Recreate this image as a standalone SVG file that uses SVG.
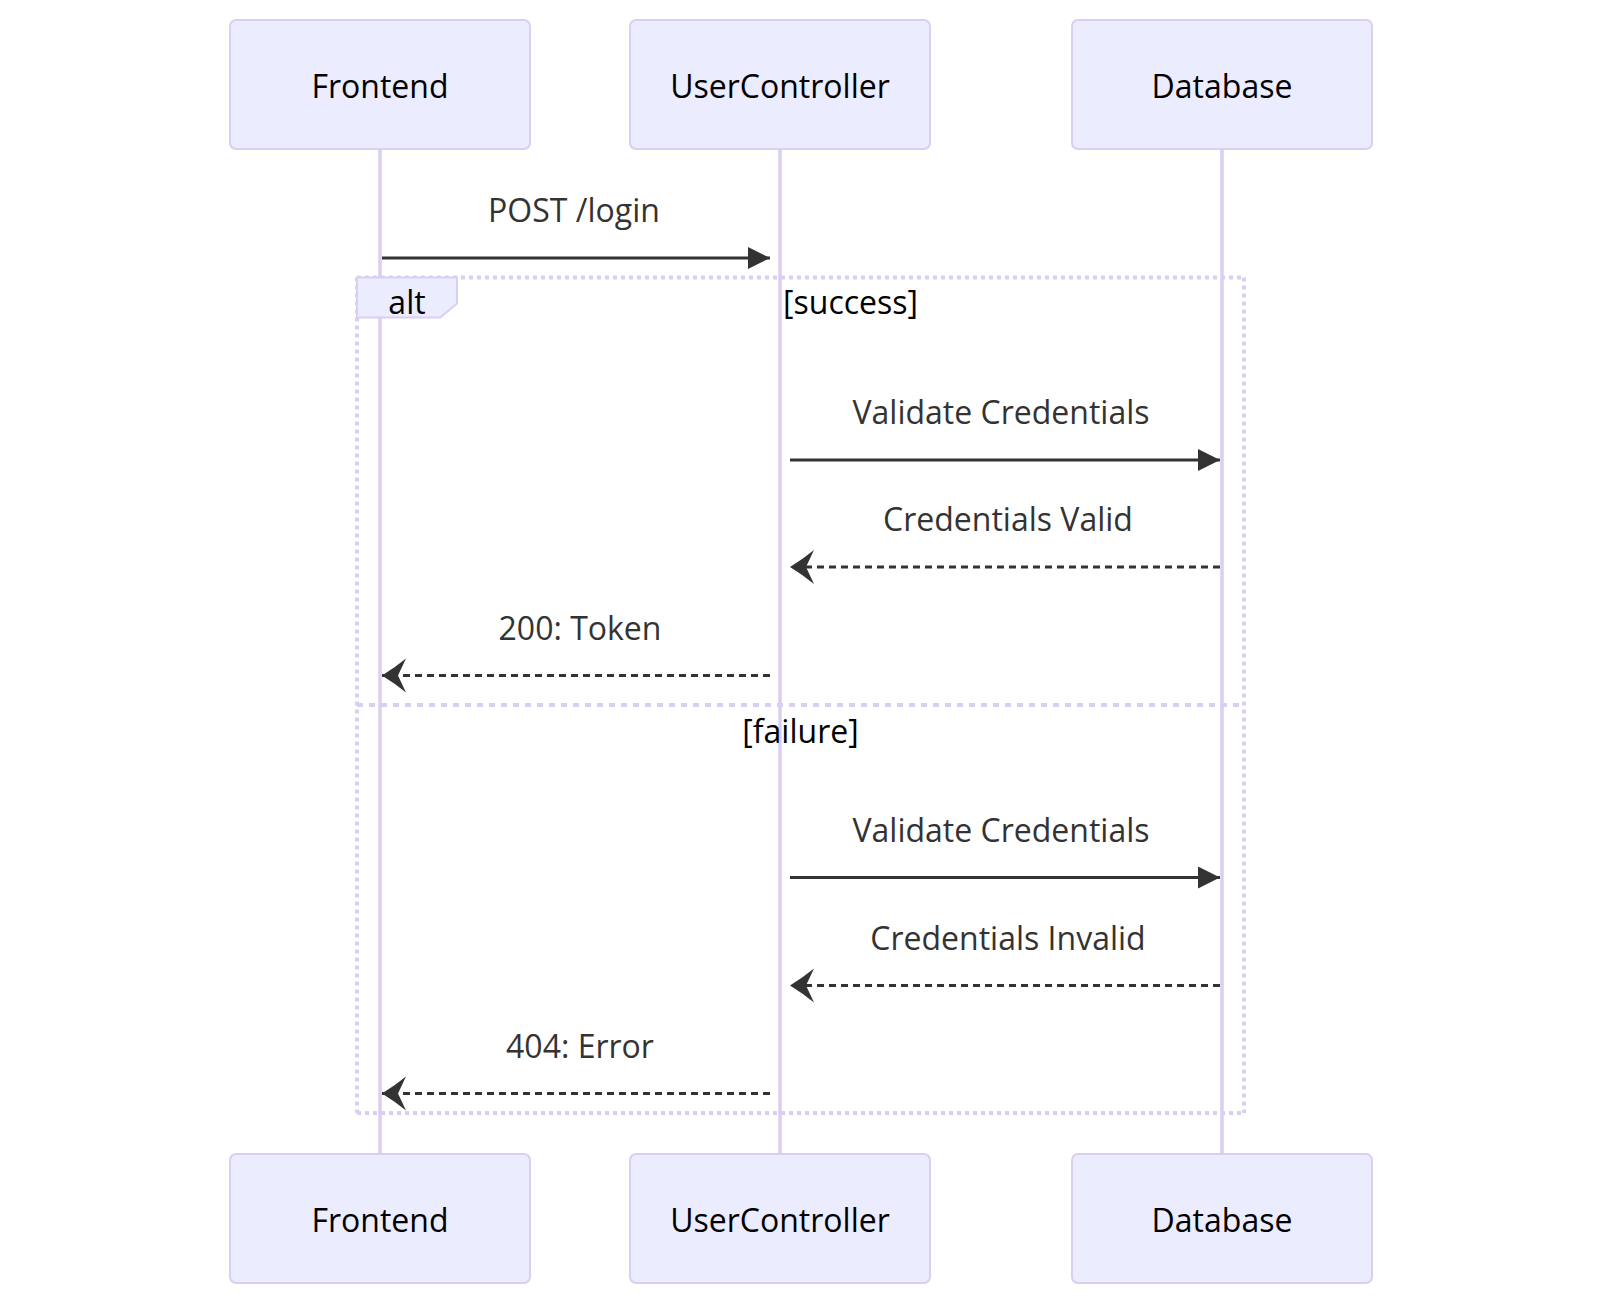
<svg xmlns="http://www.w3.org/2000/svg" width="1600" height="1306" viewBox="0 0 1600 1306">
<style>
.actor{fill:#ECECFF;stroke:#DACEF3;stroke-width:2}
.atext{font-family:"Open Sans","Noto Sans",sans-serif;font-size:32px;fill:#000;text-anchor:middle}
.lifeline{stroke:#DACEF3;stroke-width:3.5}
.msg{stroke:#333;stroke-width:3;fill:none}
.dot{stroke:#333;stroke-width:3;fill:none;stroke-dasharray:7 5}
.mtext{font-family:"Open Sans","Noto Sans",sans-serif;font-size:32px;fill:#333;text-anchor:middle}
.loop{stroke:#DACEF3;stroke-width:4;stroke-dasharray:4 4;fill:none}
.divider{stroke:#DACEF3;stroke-width:4;stroke-dasharray:6 6;fill:none}
.ltext{font-family:"Open Sans","Noto Sans",sans-serif;font-size:32px;fill:#000;text-anchor:middle}
</style>
<defs>
<marker id="solidHead" markerUnits="userSpaceOnUse" markerWidth="24" markerHeight="22" refX="22" refY="11" orient="auto">
<path d="M0,0 L22,11 L0,22 Z" fill="#333"/>
</marker>
<marker id="openHead" markerUnits="userSpaceOnUse" markerWidth="28" markerHeight="36" refX="25" refY="18" orient="auto">
<path d="M1,1 Q12,10 25,18 Q12,26 1,35 L9,18 Z" fill="#333"/>
</marker>
</defs>
<g id="lifelines">
<line class="lifeline" x1="380" y1="148" x2="380" y2="1154"/>
<line class="lifeline" x1="780" y1="148" x2="780" y2="1154"/>
<line class="lifeline" x1="1222" y1="148" x2="1222" y2="1154"/>
</g>
<g id="alt-fragment">
<line class="loop" x1="357" y1="277.5" x2="1244" y2="277.5"/>
<line class="loop" x1="1244" y1="277.5" x2="1244" y2="1113"/>
<line class="loop" x1="357" y1="1113" x2="1244" y2="1113"/>
<line class="loop" x1="357" y1="277.5" x2="357" y2="1113"/>
<line class="divider" x1="357" y1="705" x2="1244" y2="705"/>
<polygon points="357,277.5 457,277.5 457,303.5 440.2,317.5 357,317.5" fill="#ECECFF" stroke="#DACEF3" stroke-width="2"/>
<text class="ltext" x="407" y="314">alt</text>
<text class="ltext" x="850.5" y="314">[success]</text>
<text class="ltext" x="800.5" y="743">[failure]</text>
</g>
<g id="connectors">
<line class="msg" x1="382" y1="258" x2="770" y2="258" marker-end="url(#solidHead)"/>
<text class="mtext" x="574" y="222">POST /login</text>
<line class="msg" x1="790" y1="460" x2="1220" y2="460" marker-end="url(#solidHead)"/>
<text class="mtext" x="1001" y="424">Validate Credentials</text>
<line class="dot" x1="1220" y1="567" x2="790" y2="567" marker-end="url(#openHead)"/>
<text class="mtext" x="1008" y="531">Credentials Valid</text>
<line class="dot" x1="770" y1="675.5" x2="382" y2="675.5" marker-end="url(#openHead)"/>
<text class="mtext" x="580" y="639.5">200: Token</text>
<line class="msg" x1="790" y1="877.5" x2="1220" y2="877.5" marker-end="url(#solidHead)"/>
<text class="mtext" x="1001" y="841.5">Validate Credentials</text>
<line class="dot" x1="1220" y1="985.5" x2="790" y2="985.5" marker-end="url(#openHead)"/>
<text class="mtext" x="1008" y="949.5">Credentials Invalid</text>
<line class="dot" x1="770" y1="1093.5" x2="382" y2="1093.5" marker-end="url(#openHead)"/>
<text class="mtext" x="580" y="1057.5">404: Error</text>
</g>
<g id="frontend-top"><rect class="actor" x="230" y="20" width="300" height="129" rx="6"/><text class="atext" x="380" y="98">Frontend</text></g>
<g id="usercontroller-top"><rect class="actor" x="630" y="20" width="300" height="129" rx="6"/><text class="atext" x="780" y="98">UserController</text></g>
<g id="database-top"><rect class="actor" x="1072" y="20" width="300" height="129" rx="6"/><text class="atext" x="1222" y="98">Database</text></g>
<g id="frontend-bottom"><rect class="actor" x="230" y="1154" width="300" height="129" rx="6"/><text class="atext" x="380" y="1232">Frontend</text></g>
<g id="usercontroller-bottom"><rect class="actor" x="630" y="1154" width="300" height="129" rx="6"/><text class="atext" x="780" y="1232">UserController</text></g>
<g id="database-bottom"><rect class="actor" x="1072" y="1154" width="300" height="129" rx="6"/><text class="atext" x="1222" y="1232">Database</text></g>
</svg>
